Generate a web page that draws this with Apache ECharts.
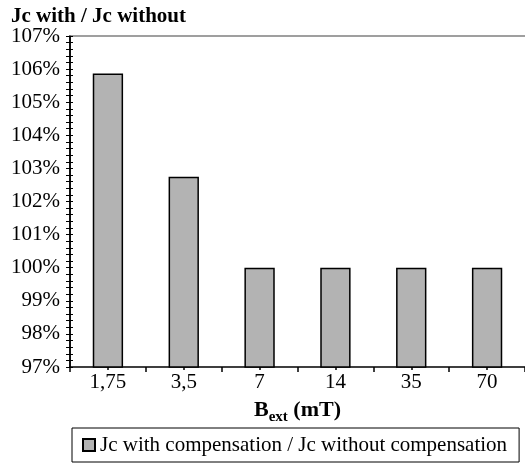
<!DOCTYPE html>
<html>
<head>
<meta charset="utf-8">
<script src="https://cdn.jsdelivr.net/npm/echarts@6/dist/echarts.min.js"></script>
<style>html,body{margin:0;padding:0;background:#fff}#c{width:525px;height:470px}</style>
</head>
<body>
<div id="c"></div>
<script>
const categories = ['1,75', '3,5', '7', '14', '35', '70'];
const ratioValues = [105.87, 102.75, 100, 100, 100, 100];
const seriesName = 'Jc with compensation / Jc without compensation';
const yMin = 97, yMax = 107, yStep = 1;

const font = '"Liberation Serif", "Times New Roman", serif';
const chart = echarts.init(document.getElementById('c'), null, {renderer: 'canvas'});
const baseY = {
  type: 'value', min: yMin, max: yMax, interval: yStep, position: 'left',
  splitLine: {show: false},
  axisLine: {show: true, lineStyle: {color: '#000', width: 1.5}}
};
const baseX = {type: 'category', data: categories, position: 'bottom'};
chart.setOption({
  animation: false,
  textStyle: {fontFamily: font},
  title: {
    text: 'Jc with / Jc without', left: 6, top: 1,
    textStyle: {fontFamily: font, fontSize: 21, fontWeight: 'bold', color: '#000'}
  },
  grid: {left: 70, top: 36, right: -5, bottom: 103, containLabel: false},
  legend: {
    left: 72, top: 428, orient: 'horizontal', icon: 'rect',
    borderColor: '#000', borderWidth: 1, padding: [6, 12, 6, 10],
    itemWidth: 12, itemHeight: 12, itemGap: 5,
    textStyle: {fontFamily: font, fontSize: 21, color: '#000', lineHeight: 22},
    data: [seriesName]
  },
  xAxis: [
    Object.assign({}, baseX, {
      axisLine: {show: true, lineStyle: {color: '#000', width: 1.5}},
      axisTick: {show: true, length: 5, inside: false, lineStyle: {color: '#000', width: 1.5}},
      axisLabel: {fontFamily: font, fontSize: 21, color: '#000', margin: 5},
      name: '{b|B}{s|ext}{b| (mT)}', nameLocation: 'middle', nameGap: 32,
      nameTextStyle: {
        rich: {
          b: {fontFamily: font, fontSize: 22, fontWeight: 'bold', color: '#000', verticalAlign: 'bottom'},
          s: {fontFamily: font, fontSize: 15, fontWeight: 'bold', color: '#000', verticalAlign: 'bottom', padding: [0, 0, -4, 0]}
        }
      }
    }),
    Object.assign({}, baseX, {
      position: 'top',
      axisLine: {show: true, lineStyle: {color: '#808080', width: 1.5}},
      axisTick: {show: false}, axisLabel: {show: false}
    }),
    Object.assign({}, baseX, {
      axisLine: {show: false},
      axisTick: {show: true, alignWithLabel: true, length: 4, inside: true, lineStyle: {color: '#000', width: 1.5}},
      axisLabel: {show: false}
    }),
    Object.assign({}, baseX, {
      axisLine: {show: false},
      axisTick: {show: true, alignWithLabel: true, length: 3, inside: false, lineStyle: {color: '#000', width: 1.5}},
      axisLabel: {show: false}
    })
  ],
  yAxis: [
    Object.assign({}, baseY, {
      axisTick: {show: true, length: 4, inside: false, lineStyle: {color: '#000', width: 1}},
      minorTick: {show: true, splitNumber: 5, length: 4, lineStyle: {color: '#000', width: 1}},
      axisLabel: {fontFamily: font, fontSize: 21, color: '#000', margin: 10, formatter: '{value}%'}
    }),
    Object.assign({}, baseY, {
      axisTick: {show: true, length: 3, inside: true, lineStyle: {color: '#000', width: 1}},
      minorTick: {show: true, splitNumber: 5, length: 3, lineStyle: {color: '#000', width: 1}},
      axisLabel: {show: false}
    })
  ],
  series: [{
    name: seriesName, type: 'bar', xAxisIndex: 0, yAxisIndex: 0,
    data: ratioValues, barWidth: '40%',
    itemStyle: {color: '#b3b3b3', borderColor: '#000', borderWidth: 1.5}
  }]
});
</script>
</body>
</html>
